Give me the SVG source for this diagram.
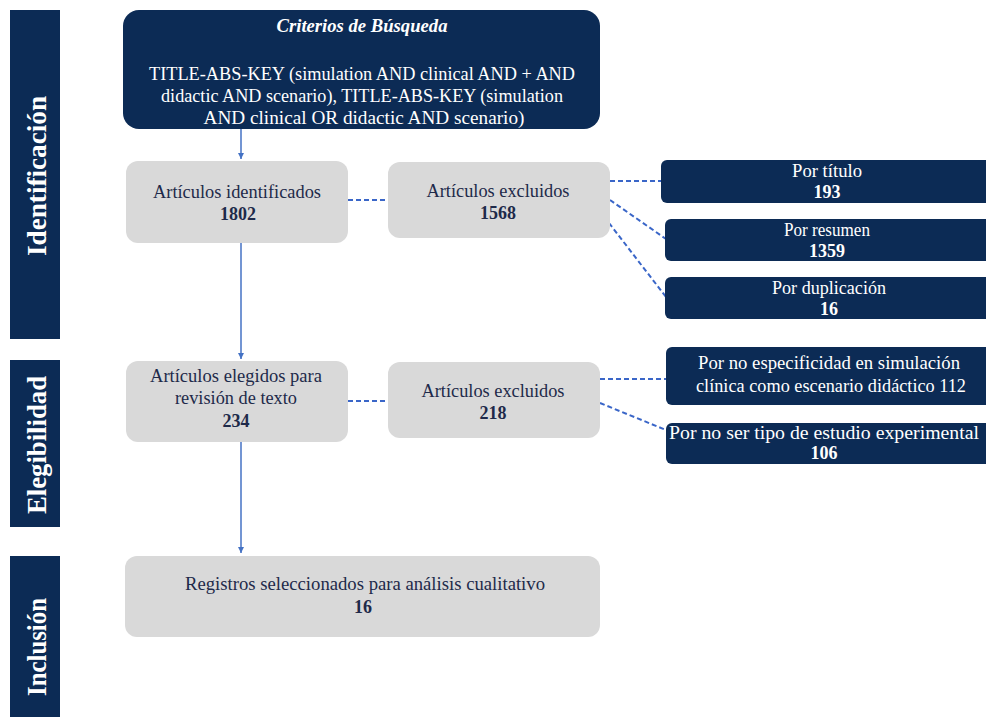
<svg xmlns="http://www.w3.org/2000/svg" width="986" height="717" viewBox="0 0 986 717">
<defs>
<style>
.bar{fill:#0c2b55}
.navy{fill:#0c2b55}
.grey{fill:#d9d9d9}
.t{font-family:"Liberation Serif","Tinos","Times New Roman","DejaVu Serif","Noto Serif",serif;font-size:18px;text-anchor:middle}
.dk{fill:#1e2a4a}
.wh{fill:#ffffff}
.b{font-weight:bold}
.side{font-family:"Liberation Serif","Tinos","Times New Roman","DejaVu Serif",serif;font-size:27px;font-weight:bold;fill:#ffffff;text-anchor:middle}
.arrow{stroke:#4472c4;stroke-width:1.5;fill:none}
.dash{stroke:#3a66c8;stroke-width:2;fill:none;stroke-dasharray:5 3}
</style>
<marker id="ah" viewBox="0 0 10 10" refX="10" refY="5" markerWidth="4" markerHeight="4" orient="auto" markerUnits="strokeWidth">
<path d="M0,0 L10,5 L0,10 z" fill="#4472c4"/>
</marker>
</defs>
<rect width="986" height="717" fill="#ffffff"/>

<g id="bar-identificacion">
<rect class="bar" x="10" y="10" width="50" height="329"/>
<text class="side" transform="translate(46,176) rotate(-90)" textLength="160" lengthAdjust="spacingAndGlyphs">Identificación</text>
</g>
<g id="bar-elegibilidad">
<rect class="bar" x="10" y="360" width="50" height="167"/>
<text class="side" transform="translate(46,445) rotate(-90)" textLength="138" lengthAdjust="spacingAndGlyphs">Elegibilidad</text>
</g>
<g id="bar-inclusion">
<rect class="bar" x="10" y="556" width="50" height="161"/>
<text class="side" transform="translate(46,647) rotate(-90)" textLength="98" lengthAdjust="spacingAndGlyphs">Inclusión</text>
</g>

<g id="connectors">
<line class="arrow" x1="241" y1="129" x2="241" y2="159" marker-end="url(#ah)"/>
<line class="arrow" x1="241" y1="243" x2="241" y2="359" marker-end="url(#ah)"/>
<line class="arrow" x1="241" y1="442" x2="241" y2="553" marker-end="url(#ah)"/>
<line class="dash" x1="348" y1="200" x2="388" y2="200"/>
<line class="dash" x1="610" y1="181" x2="661" y2="181"/>
<line class="dash" x1="610" y1="200" x2="666" y2="239"/>
<line class="dash" x1="609" y1="223" x2="666" y2="297"/>
<line class="dash" x1="348" y1="401" x2="388" y2="401"/>
<line class="dash" x1="600" y1="379" x2="666" y2="379"/>
<line class="dash" x1="600" y1="403" x2="666" y2="430"/>
</g>

<g id="criterios">
<rect class="navy" x="123" y="10" width="477" height="119" rx="16"/>
<text class="t wh b" x="362" y="32" font-style="italic" font-size="17" textLength="171" lengthAdjust="spacingAndGlyphs">Criterios de Búsqueda</text>
<text class="t wh" x="362" y="80" textLength="426" lengthAdjust="spacingAndGlyphs">TITLE-ABS-KEY (simulation AND clinical AND + AND</text>
<text class="t wh" x="362" y="102" textLength="402" lengthAdjust="spacingAndGlyphs">didactic AND scenario), TITLE-ABS-KEY (simulation</text>
<text class="t wh" x="364" y="124" textLength="321" lengthAdjust="spacingAndGlyphs">AND clinical OR didactic AND scenario)</text>
</g>

<g id="identificados">
<rect class="grey" x="126" y="161" width="222" height="82" rx="12"/>
<text class="t dk" x="237" y="198" textLength="168" lengthAdjust="spacingAndGlyphs">Artículos identificados</text>
<text class="t dk b" x="238" y="220">1802</text>
</g>
<g id="excluidos1">
<rect class="grey" x="388" y="162" width="222" height="76" rx="12"/>
<text class="t dk" x="498" y="197" textLength="143" lengthAdjust="spacingAndGlyphs">Artículos excluidos</text>
<text class="t dk b" x="498" y="219">1568</text>
</g>
<g id="por-titulo">
<rect class="navy" x="661" y="160" width="340" height="43" rx="6"/>
<text class="t wh" x="827" y="177" textLength="70" lengthAdjust="spacingAndGlyphs">Por título</text>
<text class="t wh b" x="827" y="198">193</text>
</g>
<g id="por-resumen">
<rect class="navy" x="665" y="219" width="340" height="42" rx="6"/>
<text class="t wh" x="827" y="236" textLength="86" lengthAdjust="spacingAndGlyphs">Por resumen</text>
<text class="t wh b" x="827" y="257">1359</text>
</g>
<g id="por-duplicacion">
<rect class="navy" x="665" y="277" width="340" height="42" rx="6"/>
<text class="t wh" x="829" y="294" textLength="114" lengthAdjust="spacingAndGlyphs">Por duplicación</text>
<text class="t wh b" x="829" y="315">16</text>
</g>

<g id="elegidos">
<rect class="grey" x="126" y="361" width="222" height="81" rx="12"/>
<text class="t dk" x="236" y="382" textLength="172" lengthAdjust="spacingAndGlyphs">Artículos elegidos para</text>
<text class="t dk" x="236" y="404" textLength="122" lengthAdjust="spacingAndGlyphs">revisión de texto</text>
<text class="t dk b" x="236" y="427">234</text>
</g>
<g id="excluidos2">
<rect class="grey" x="388" y="362" width="212" height="76" rx="12"/>
<text class="t dk" x="493" y="397" textLength="143" lengthAdjust="spacingAndGlyphs">Artículos excluidos</text>
<text class="t dk b" x="493" y="419">218</text>
</g>
<g id="por-no-especificidad">
<rect class="navy" x="666" y="347" width="340" height="58" rx="6"/>
<text class="t wh" x="829" y="369" textLength="262" lengthAdjust="spacingAndGlyphs">Por no especificidad en simulación</text>
<text class="t wh" x="831" y="392" textLength="270" lengthAdjust="spacingAndGlyphs">clínica como escenario didáctico 112</text>
</g>
<g id="por-no-ser">
<rect class="navy" x="666" y="423" width="340" height="41" rx="6"/>
<text class="t wh" x="824" y="439" textLength="310" lengthAdjust="spacingAndGlyphs">Por no ser tipo de estudio experimental</text>
<text class="t wh b" x="824" y="459">106</text>
</g>

<g id="registros">
<rect class="grey" x="125" y="556" width="475" height="81" rx="12"/>
<text class="t dk" x="365" y="590" textLength="360" lengthAdjust="spacingAndGlyphs">Registros seleccionados para análisis cualitativo</text>
<text class="t dk b" x="363" y="613">16</text>
</g>
</svg>
